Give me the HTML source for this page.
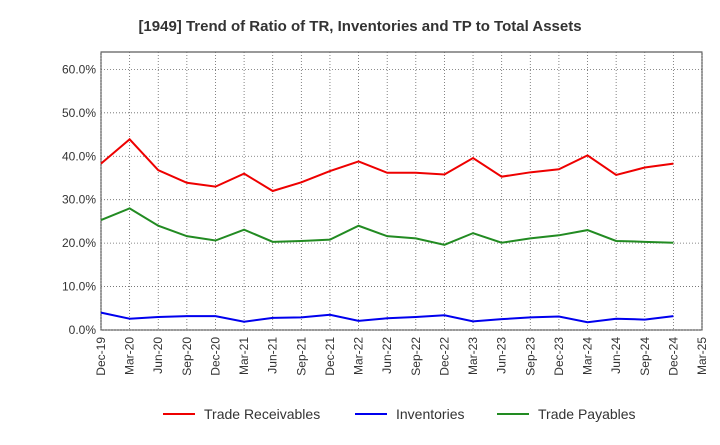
<!DOCTYPE html>
<html><head><meta charset="utf-8"><style>
body{margin:0;background:#fff;font-family:"Liberation Sans",sans-serif}
svg text{font-family:"Liberation Sans",sans-serif}
</style></head><body>
<svg id="chart" width="720" height="440" xmlns="http://www.w3.org/2000/svg">
<text x="360" y="31" text-anchor="middle" font-size="15" font-weight="bold" fill="#333">[1949]  Trend of Ratio of TR, Inventories and TP to Total Assets</text>
<g id="grid"></g><g id="axes"></g><g id="series"></g><g id="legend"></g>
</svg>
<script>
const xLabels=["Dec-19","Mar-20","Jun-20","Sep-20","Dec-20","Mar-21","Jun-21","Sep-21","Dec-21","Mar-22","Jun-22","Sep-22","Dec-22","Mar-23","Jun-23","Sep-23","Dec-23","Mar-24","Jun-24","Sep-24","Dec-24","Mar-25"];
const yTicks=[0,10,20,30,40,50,60];
const tradeReceivables=[38.3,43.9,36.8,33.9,33.0,36.0,32.0,34.0,36.6,38.8,36.2,36.2,35.8,39.6,35.3,36.3,37.0,40.2,35.7,37.4,38.3];
const inventories=[4.0,2.6,3.0,3.2,3.2,1.9,2.8,2.9,3.5,2.1,2.7,3.0,3.4,2.0,2.5,2.9,3.1,1.8,2.6,2.4,3.2];
const tradePayables=[25.3,28.0,24.0,21.6,20.6,23.1,20.3,20.5,20.8,24.0,21.6,21.1,19.6,22.3,20.1,21.1,21.8,23.0,20.5,20.3,20.1];
const seriesNames=["Trade Receivables","Inventories","Trade Payables"];
const NS="http://www.w3.org/2000/svg";
const L=101,R=702,T=52,B=330,YMAX=64;
const x=i=>L+(R-L)*i/(xLabels.length-1);
const y=v=>B-(B-T)*v/YMAX;
function mk(tag,attrs,parent){const e=document.createElementNS(NS,tag);for(const k in attrs)e.setAttribute(k,attrs[k]);parent.appendChild(e);return e;}
const grid=document.getElementById('grid'),axes=document.getElementById('axes'),ser=document.getElementById('series'),leg=document.getElementById('legend');
mk('rect',{x:L,y:T,width:R-L,height:B-T,fill:'#fff',stroke:'#333','stroke-width':1},grid);
xLabels.forEach((lab,i)=>{
 const l=mk('line',{x1:x(i),x2:x(i),y1:T,y2:B,stroke:'#666','stroke-width':0.8,'stroke-dasharray':'1,2'},grid);
 
 
 const t=mk('text',{x:0,y:0,'font-size':12,fill:'#333','text-anchor':'end',transform:`translate(${x(i)+4},${B+7}) rotate(-90)`},axes);
 t.textContent=lab;
 
 
});
yTicks.forEach(v=>{
 const l=mk('line',{x1:L,x2:R,y1:y(v),y2:y(v),stroke:'#666','stroke-width':0.8,'stroke-dasharray':'1,2'},grid);
 
 
 const t=mk('text',{x:L-5,y:y(v)+4,'font-size':12,fill:'#333','text-anchor':'end'},axes);
 t.textContent=v.toFixed(1)+'%';
 
 
});
const colors=['#ee0000','#0000ee','#228b22'];
[tradeReceivables,inventories,tradePayables].forEach((d,s)=>{
 const p=mk('polyline',{points:d.map((v,i)=>x(i)+','+y(v)).join(' '),fill:'none',stroke:colors[s],'stroke-width':2},ser);
 
 
});
const lx=[163,355,497];
seriesNames.forEach((n,s)=>{
 const g=mk('g',{},leg);
 
 
 mk('line',{x1:lx[s],x2:lx[s]+32,y1:414,y2:414,stroke:colors[s],'stroke-width':2},g);
 const t=mk('text',{x:lx[s]+41,y:419,'font-size':14,fill:'#333'},g);
 t.textContent=n;
});
</script>
</body></html>
